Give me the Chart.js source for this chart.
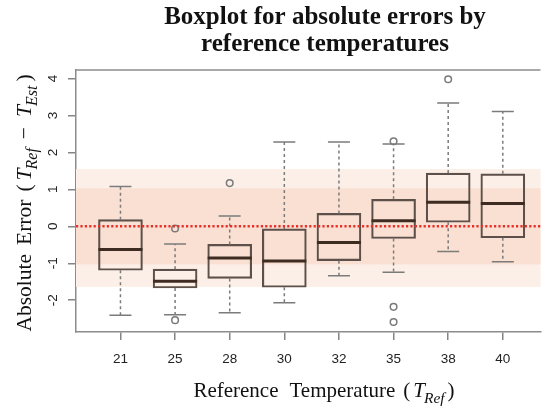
<!DOCTYPE html>
<html><head><meta charset="utf-8">
<script src="https://cdn.jsdelivr.net/npm/chart.js@4"></script>
<style>html,body{margin:0;padding:0;background:#fff;overflow:hidden}#wrap{width:546px;height:408px;position:relative}</style>
</head><body><div id="wrap"><canvas id="c" width="546" height="408"></canvas></div>
<script>
// ---- data ----
const categories = ['21', '25', '28', '30', '32', '35', '38', '40'];
const q1          = [-1.19, -1.67, -1.41, -1.65, -0.93, -0.33, 0.11, -0.31];
const q3          = [ 0.18, -1.16, -0.49, -0.07,  0.35,  0.73, 1.44,  1.42];
const medians     = [-0.63, -1.49, -0.86, -0.94, -0.44,  0.15, 0.65,  0.62];
const whiskerLow  = [-2.41, -2.39, -2.34, -2.07, -1.34, -1.24, -0.68, -0.96];
const whiskerHigh = [ 1.08, -0.48,  0.28,  2.28,  2.28,  2.23, 3.34,  3.11];
const outlierCategory = [2, 2, 3, 6, 6, 6, 7];
const outlierValue    = [-0.06, -2.54, 1.17, 2.30, -2.18, -2.59, 3.98];
const yTickValues = [-2, -1, 0, 1, 2, 3, 4];
const innerBand = [-1.03, 1.03];
const outerBand = [-1.64, 1.55];
const referenceLine = 0;

const boxData = categories.map((c, i) => ({x: i + 1, y: [q1[i], q3[i]]}));
const outlierData = outlierCategory.map((c, i) => ({x: c, y: outlierValue[i]}));

const SERIF = '"Liberation Serif", "Times New Roman", serif';
const SANS = '"Liberation Sans", Arial, sans-serif';

function drawRich(ctx, segs, cx, cy, rotate) {
  ctx.save();
  ctx.translate(cx, cy);
  if (rotate) ctx.rotate(-Math.PI / 2);
  let total = 0;
  segs.forEach(s => { ctx.font = s.font; s.w = ctx.measureText(s.text).width + (s.gap || 0) + (s.pre || 0); total += s.w; });
  let x = -total / 2;
  ctx.textBaseline = 'alphabetic';
  ctx.textAlign = 'left';
  ctx.fillStyle = '#111';
  segs.forEach(s => { ctx.font = s.font; ctx.fillText(s.text, x + (s.pre || 0), s.dy || 0); x += s.w; });
  ctx.restore();
}

const boxPlugin = {
  id: 'boxparts',
  beforeDatasetsDraw(chart) {
    const {ctx, chartArea: a, scales: {y}} = chart;
    ctx.save();
    ctx.fillStyle = '#fcefe7';
    ctx.fillRect(a.left, y.getPixelForValue(outerBand[1]), a.right - a.left,
      y.getPixelForValue(outerBand[0]) - y.getPixelForValue(outerBand[1]));
    ctx.fillStyle = '#f9e0d2';
    ctx.fillRect(a.left, y.getPixelForValue(innerBand[1]), a.right - a.left,
      y.getPixelForValue(innerBand[0]) - y.getPixelForValue(innerBand[1]));
    ctx.restore();
  },
  afterDatasetsDraw(chart) {
    const {ctx, chartArea: a, scales: {x, y}} = chart;
    ctx.save();
    categories.forEach((c, i) => {
      const px = x.getPixelForValue(i + 1);
      const half = 22, cap = 11;
      ctx.strokeStyle = '#7b7b7b';
      ctx.lineWidth = 1.5;
      ctx.setLineDash([3, 3]);
      ctx.beginPath();
      ctx.moveTo(px, y.getPixelForValue(q3[i]));
      ctx.lineTo(px, y.getPixelForValue(whiskerHigh[i]));
      ctx.moveTo(px, y.getPixelForValue(q1[i]));
      ctx.lineTo(px, y.getPixelForValue(whiskerLow[i]));
      ctx.stroke();
      ctx.setLineDash([]);
      ctx.beginPath();
      ctx.moveTo(px - cap, y.getPixelForValue(whiskerHigh[i]));
      ctx.lineTo(px + cap, y.getPixelForValue(whiskerHigh[i]));
      ctx.moveTo(px - cap, y.getPixelForValue(whiskerLow[i]));
      ctx.lineTo(px + cap, y.getPixelForValue(whiskerLow[i]));
      ctx.stroke();
      ctx.strokeStyle = '#3e2c22';
      ctx.lineWidth = 3;
      ctx.beginPath();
      ctx.moveTo(px - half, y.getPixelForValue(medians[i]));
      ctx.lineTo(px + half, y.getPixelForValue(medians[i]));
      ctx.stroke();
    });
    ctx.strokeStyle = '#e8302a';
    ctx.lineWidth = 2.5;
    ctx.setLineDash([2.2, 2.2]);
    ctx.beginPath();
    const ry = y.getPixelForValue(referenceLine);
    ctx.moveTo(a.left, ry);
    ctx.lineTo(a.right, ry);
    ctx.stroke();
    ctx.setLineDash([]);
    ctx.strokeStyle = '#8c8c8c';
    ctx.lineWidth = 1.5;
    ctx.beginPath();
    ctx.moveTo(a.left, a.top);
    ctx.lineTo(a.right, a.top);
    ctx.stroke();
    ctx.restore();
  },
  afterDraw(chart) {
    const ctx = chart.ctx;
    const tf = 'bold 25px ' + SERIF;
    drawRich(ctx, [{text: 'Boxplot for absolute errors by', font: tf}], 325, 23.5, false);
    drawRich(ctx, [{text: 'reference temperatures', font: tf}], 325, 50.5, false);
    const f = '21px ' + SERIF, fi = 'italic 21px ' + SERIF, fs = 'italic 15.5px ' + SERIF;
    drawRich(ctx, [
      {text: 'Reference', font: f, gap: 11},
      {text: 'Temperature', font: f, gap: 8},
      {text: '(', font: f, gap: 3},
      {text: 'T', font: fi, gap: -1},
      {text: 'Ref', font: fs, dy: 6, gap: 3},
      {text: ')', font: f}
    ], 324, 397, false);
    const fy = '21.5px ' + SERIF, fyi = 'italic 21.5px ' + SERIF, fys = 'italic 16px ' + SERIF;
    drawRich(ctx, [
      {text: 'Absolute', font: fy, gap: 9},
      {text: 'Error', font: fy, gap: 8},
      {text: '(', font: fy, gap: 4},
      {text: 'T', font: fyi, gap: -1},
      {text: 'Ref', font: fys, dy: 6, gap: 4},
      {text: '\u2212', font: fy, pre: 5, gap: 10},
      {text: 'T', font: fyi, gap: -1},
      {text: 'Est', font: fys, dy: 6, gap: 4},
      {text: ')', font: fy}
    ], 31, 203, true);
  }
};

const chart = new Chart(document.getElementById('c'), {
  type: 'bar',
  data: {
    datasets: [
      {
        type: 'bar',
        data: boxData,
        backgroundColor: 'rgba(0,0,0,0)',
        borderColor: '#5d504a',
        borderWidth: 1.5,
        borderSkipped: false,
        barThickness: 44
      },
      {
        type: 'scatter',
        data: outlierData,
        pointStyle: 'circle',
        pointRadius: 3.3,
        pointBorderWidth: 1.5,
        pointBorderColor: '#7a7a7a',
        pointBackgroundColor: 'rgba(0,0,0,0)'
      }
    ]
  },
  options: {
    responsive: false,
    animation: false,
    layout: {padding: {top: 70, left: 0, right: 0, bottom: 0}},
    plugins: {legend: {display: false}, tooltip: {enabled: false}, title: {display: false}},
    scales: {
      x: {
        type: 'linear',
        offset: false,
        min: 0.186,
        max: 8.69,
        afterBuildTicks: s => { s.ticks = categories.map((c, i) => ({value: i + 1})); },
        afterFit: s => { s.height = 76; },
        ticks: {
          callback: v => categories[v - 1],
          font: {family: SANS, size: 13.5},
          color: '#222',
          padding: 11,
          maxRotation: 0,
          autoSkip: false
        },
        grid: {offset: false, drawOnChartArea: false, drawTicks: true, tickLength: 8, color: '#858585', lineWidth: 1.5},
        border: {display: true, color: '#8c8c8c', width: 1.5}
      },
      y: {
        type: 'linear',
        min: -2.86,
        max: 4.23,
        afterBuildTicks: s => { s.ticks = yTickValues.map(v => ({value: v})); },
        afterFit: s => { s.width = 76; },
        ticks: {
          font: {family: SANS, size: 13.5},
          color: '#222',
          padding: 9,
          minRotation: 90,
          maxRotation: 90,
          crossAlign: 'center'
        },
        grid: {drawOnChartArea: false, drawTicks: true, tickLength: 8, color: '#858585', lineWidth: 1.5},
        border: {display: true, color: '#8c8c8c', width: 1.5}
      }
    }
  },
  plugins: [boxPlugin]
});
</script>
</body></html>
